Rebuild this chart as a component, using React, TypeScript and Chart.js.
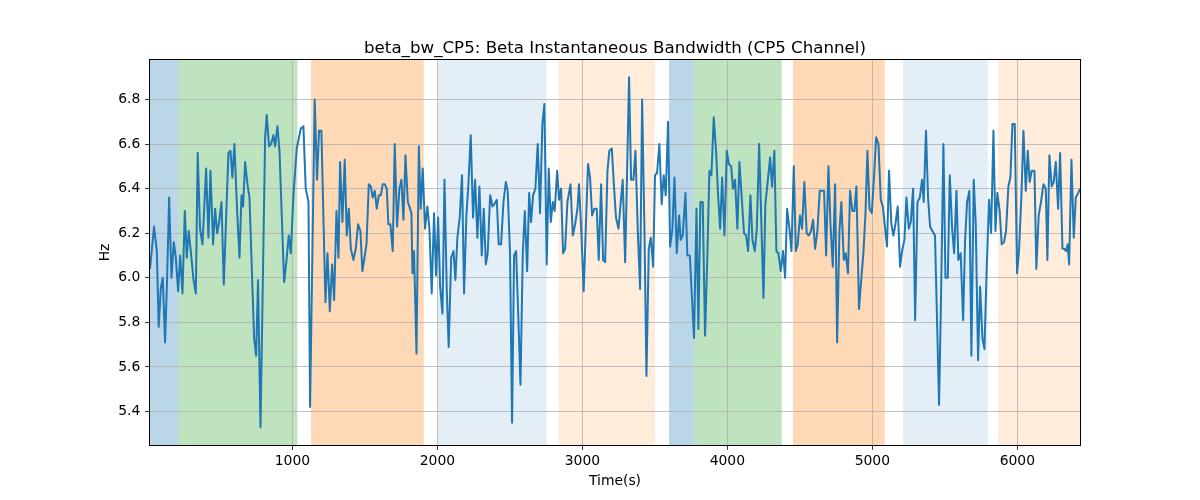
import React, { useEffect, useRef } from "react";
import { Chart, registerables } from "chart.js";

Chart.register(...registerables);

const TITLE = "beta_bw_CP5: Beta Instantaneous Bandwidth (CP5 Channel)";
const X_LABEL = "Time(s)";
const Y_LABEL = "Hz";

const timeSec = [
  18, 46, 65, 78, 92, 106, 122, 136, 150, 166, 182, 196, 212, 226, 242, 258, 272, 285, 301, 318,
  334, 347, 363, 380, 405, 421, 435, 453, 467, 481, 495, 511, 527, 543, 559, 573, 586, 600, 619, 635,
  649, 660, 674,
  690, 704, 736, 750, 763, 780, 812, 823, 839, 853, 869, 881, 897, 911, 943, 961, 975, 989, 1007, 1030,
  1058, 1076, 1092, 1111, 1122, 1154, 1170, 1184, 1200, 1228, 1242, 1258, 1274, 1288, 1304, 1318, 1329,
  1345, 1361, 1375, 1389, 1403, 1421, 1437, 1453, 1469, 1483, 1497, 1511, 1527, 1541, 1554, 1568, 1582,
  1596, 1610, 1623, 1637, 1651, 1662, 1676, 1692, 1706, 1722, 1738, 1752, 1766, 1780, 1796, 1807, 1821,
  1828, 1839, 1856, 1872, 1885, 1899, 1915, 1931, 1945, 1961, 1977,
  1991, 2005, 2019, 2035, 2049, 2065, 2078, 2095, 2111, 2124, 2138, 2154, 2170, 2184, 2200, 2214, 2230,
  2246, 2260, 2276, 2290, 2306, 2320, 2334, 2347, 2364, 2380, 2393, 2410, 2423, 2439, 2456, 2472, 2485,
  2501, 2515, 2529, 2543, 2559, 2573, 2589, 2603, 2619, 2633,
  2646, 2660, 2676, 2692, 2708, 2724, 2738, 2754, 2768, 2782, 2796, 2809, 2826, 2839, 2853, 2867, 2881,
  2897, 2918, 2934, 2950, 2966, 2977, 2993, 3009, 3025, 3039, 3053, 3067, 3083, 3099, 3113, 3129, 3143,
  3157, 3173, 3186, 3203, 3219, 3232, 3249, 3262, 3278, 3295,
  3306, 3322, 3336, 3352, 3366, 3382, 3398, 3412, 3428, 3442, 3458, 3472, 3488, 3501, 3515, 3531, 3547,
  3561, 3575, 3591, 3605, 3621, 3635, 3651, 3667, 3678, 3692, 3711, 3724, 3741, 3755, 3770, 3787, 3800,
  3814, 3830, 3846, 3862, 3876, 3890, 3906, 3922, 3936, 3950,
  3964, 3980, 3996, 4010, 4026, 4039, 4053, 4069, 4083, 4099, 4115, 4129, 4143, 4159, 4173, 4189, 4203,
  4219, 4233, 4249, 4262, 4278, 4295, 4308, 4324, 4338, 4352, 4368, 4384, 4398, 4412, 4428, 4442, 4458,
  4472, 4485, 4501, 4515, 4531, 4547, 4561, 4577, 4591, 4605,
  4621, 4637, 4653, 4667, 4681, 4697, 4711, 4727, 4743, 4757, 4773, 4786, 4803, 4816, 4832, 4846, 4862,
  4876, 4890, 4908, 4924, 4938, 4952, 4966, 4980, 4996, 5012, 5026, 5042, 5058, 5072, 5088, 5101, 5115,
  5131, 5145, 5159, 5175, 5191, 5205, 5221, 5235, 5251,
  5265, 5281, 5295, 5311, 5327, 5343, 5354, 5370, 5384, 5398, 5414, 5432, 5460, 5474, 5490, 5504, 5520,
  5534, 5550, 5564, 5580, 5593, 5609, 5626, 5639, 5653, 5669, 5683, 5699, 5713, 5729, 5743, 5759, 5773,
  5789, 5805, 5819, 5835, 5849, 5862, 5878, 5892, 5908, 5922,
  5938, 5952, 5966, 5982, 5998, 6012, 6028, 6042, 6058, 6072, 6085, 6099, 6118, 6131, 6147, 6163, 6180,
  6196, 6207, 6221, 6237, 6251, 6265, 6281, 6295, 6311, 6324, 6336, 6347, 6357, 6373, 6389, 6403, 6419,
  6432,
];

const bandwidthHz = [
  6.04, 6.23, 6.12, 5.78, 5.95, 6.0, 5.71, 6.0, 6.36, 6.0, 6.16, 6.09, 5.94, 6.1, 5.93, 6.3, 6.09, 6.21, 6.11, 5.99,
  5.93, 6.56, 6.22, 6.15, 6.49, 6.18, 6.48, 6.15, 6.31, 6.2, 6.25, 6.34, 5.97, 6.27, 6.56, 6.57, 6.45, 6.6, 6.3, 6.09,
  6.37, 6.32, 6.52,
  6.42, 6.36, 5.73, 5.65, 5.99, 5.33, 6.63, 6.73, 6.59, 6.6, 6.64, 6.59, 6.68, 6.57, 5.98, 6.09, 6.19, 6.11, 6.37, 6.58,
  6.67, 6.68, 6.4, 6.34, 5.42, 6.8, 6.44, 6.66, 6.66, 5.89, 6.11, 5.85, 6.06, 5.9, 6.3, 6.09, 6.52,
  6.25, 6.53, 6.19, 6.31, 6.13, 6.08, 6.13, 6.24, 6.21, 6.03, 6.09, 6.15, 6.42, 6.41, 6.36, 6.39, 6.31,
  6.37, 6.37, 6.42, 6.42, 6.4, 6.24, 6.24, 6.12, 6.6, 6.23, 6.4, 6.44, 6.26, 6.55, 6.34, 6.32, 6.29,
  6.02, 6.12, 5.66, 6.59, 6.31, 6.49, 6.22, 6.32, 6.22, 5.93, 6.29,
  6.01, 6.27, 5.96, 5.84, 6.44, 5.94, 5.69, 6.09, 6.12, 5.99, 6.18, 6.27, 6.46, 5.93, 6.28, 6.42, 6.64,
  6.27, 6.44, 6.18, 6.41, 6.1, 6.31, 6.06, 6.11, 6.37, 6.32, 6.33, 6.35, 6.15, 6.15, 6.34, 6.43, 6.39,
  6.11, 5.35, 6.1, 6.12, 5.81, 5.52, 6.11, 6.3, 6.03, 6.38,
  6.25, 6.37, 6.4, 6.6, 6.29, 6.69, 6.78, 6.06, 6.49, 6.25, 6.34, 6.3, 6.48, 6.35, 6.4, 6.11, 6.13,
  6.34, 6.42, 6.19, 6.24, 6.31, 6.42, 6.2, 5.94, 6.25, 6.51, 6.45, 6.28, 6.31, 6.31, 6.08, 6.42, 6.08,
  6.07, 6.48, 6.57, 6.58, 6.4, 6.27, 6.22, 6.32, 6.44, 6.07,
  6.4, 6.9, 6.44, 6.44, 6.57, 6.21, 5.95, 6.8, 6.22, 5.56, 6.13, 6.18, 6.05, 6.46, 6.47, 6.6, 6.33,
  6.46, 6.37, 6.7, 6.14, 6.22, 6.45, 6.11, 6.28, 6.17, 6.19, 6.38, 6.1, 6.1, 5.92, 5.73, 6.31, 5.77,
  6.34, 6.34, 5.74, 6.1, 6.48, 6.46, 6.72, 6.57, 6.37, 6.22,
  6.45, 6.19, 6.57, 6.51, 6.5, 6.4, 6.44, 6.22, 6.52, 6.36, 6.2, 6.19, 6.12, 6.37, 6.17, 6.12, 6.22,
  6.6, 6.28, 5.91, 6.33, 6.43, 6.54, 6.41, 6.57, 6.12, 6.11, 6.03, 6.12, 6.0, 6.31, 6.22, 6.12, 6.5,
  6.12, 6.15, 6.28, 6.22, 6.43, 6.2, 6.19, 6.21, 6.26, 6.13,
  6.21, 6.39, 6.39, 6.39, 6.1, 6.5, 6.24, 6.05, 6.42, 5.71, 6.21, 6.34, 6.08, 6.11, 6.02, 6.39, 6.3,
  6.3, 6.41, 5.86, 6.0, 6.11, 6.28, 6.57, 6.31, 6.29, 6.46, 6.63, 6.6, 6.35, 6.32, 6.22, 6.14, 6.48,
  6.24, 6.19, 6.24, 6.32, 6.05, 6.12, 6.17, 6.36, 6.22,
  6.25, 6.4, 5.81, 6.34, 6.36, 6.44, 6.34, 6.66, 6.36, 6.23, 6.21, 6.19, 5.43, 5.93, 6.6, 6.0, 6.0,
  6.46, 6.22, 6.11, 6.39, 6.08, 6.11, 5.81, 6.16, 6.34, 6.39, 5.65, 6.44, 6.24, 5.63, 5.96, 5.73, 5.68,
  6.05, 6.35, 6.2, 6.66, 6.21, 6.38, 6.3, 6.15, 6.16, 6.21,
  6.41, 6.45, 6.69, 6.69, 6.02, 6.13, 6.37, 6.66, 6.39, 6.57, 6.43, 6.48, 6.48, 6.04, 6.28, 6.34, 6.42,
  6.4, 6.08, 6.55, 6.41, 6.43, 6.52, 6.31, 6.56, 6.13, 6.13, 6.12, 6.15, 6.06, 6.53, 6.18, 6.36, 6.38,
  6.4,
];

const xTicks = [1000, 2000, 3000, 4000, 5000, 6000];
const yTicks = [5.4, 5.6, 5.8, 6.0, 6.2, 6.4, 6.6, 6.8];

const spanStart = [18, 216, 1129, 2000, 2835, 3598, 3768, 4453, 5212, 5867];
const spanEnd = [216, 1034, 1906, 2754, 3501, 3768, 4375, 5085, 5796, 6432];
const spanColor = [
  "rgba(31,119,180,0.3)",
  "rgba(44,160,44,0.3)",
  "rgba(255,127,14,0.3)",
  "rgba(31,119,180,0.12)",
  "rgba(255,127,14,0.15)",
  "rgba(31,119,180,0.3)",
  "rgba(44,160,44,0.3)",
  "rgba(255,127,14,0.3)",
  "rgba(31,119,180,0.12)",
  "rgba(255,127,14,0.15)",
];

const X_MIN = 18;
const X_MAX = 6432;
const Y_MIN = 5.25;
const Y_MAX = 6.977;

const FONT = "'DejaVu Sans', 'Liberation Sans', sans-serif";

const spansPlugin = {
  id: "spans",
  beforeDraw(chart: any) {
    const { ctx, chartArea, scales } = chart;
    const xs = scales.x;
    ctx.save();
    ctx.beginPath();
    ctx.rect(chartArea.left, chartArea.top, chartArea.right - chartArea.left, chartArea.bottom - chartArea.top);
    ctx.clip();
    for (let i = 0; i < spanStart.length; i++) {
      const a = xs.getPixelForValue(spanStart[i]);
      const b = xs.getPixelForValue(spanEnd[i]);
      ctx.fillStyle = spanColor[i];
      ctx.fillRect(a, chartArea.top, b - a, chartArea.bottom - chartArea.top);
    }
    ctx.restore();
  },
};

const framePlugin = {
  id: "frame",
  afterDatasetsDraw(chart: any) {
    const { ctx, chartArea } = chart;
    ctx.save();
    ctx.strokeStyle = "#000";
    ctx.lineWidth = 1;
    ctx.strokeRect(
      chartArea.left - 0.5,
      chartArea.top - 0.5,
      chartArea.right - chartArea.left + 1,
      chartArea.bottom - chartArea.top + 1
    );
    ctx.restore();
  },
  afterDraw(chart: any) {
    const { ctx, chartArea } = chart;
    ctx.save();
    ctx.fillStyle = "#000";
    ctx.font = `16.67px ${FONT}`;
    ctx.textAlign = "center";
    ctx.textBaseline = "alphabetic";
    ctx.fillText(TITLE, (chartArea.left + chartArea.right) / 2, 52.7);
    ctx.restore();
  },
};

export default function App() {
  const canvasRef = useRef<HTMLCanvasElement | null>(null);

  useEffect(() => {
    const canvas = canvasRef.current;
    if (!canvas) return;
    const tickFont = { family: FONT, size: 13.9 };
    const chart = new Chart(canvas, {
      type: "line",
      data: {
        datasets: [
          {
            data: timeSec.map((t, i) => ({ x: t, y: bandwidthHz[i] })),
            borderColor: "#1f77b4",
            borderWidth: 2,
            pointRadius: 0,
            fill: false,
            tension: 0,
            borderJoinStyle: "round",
          },
        ],
      },
      options: {
        responsive: false,
        animation: false,
        devicePixelRatio: 1,
        layout: { padding: { top: 60, right: 120, left: 0, bottom: 0 } },
        plugins: {
          legend: { display: false },
          tooltip: { enabled: false },
          title: { display: false },
        },
        scales: {
          x: {
            type: "linear",
            min: X_MIN,
            max: X_MAX,
            afterBuildTicks: (s: any) => {
              s.ticks = xTicks.map((v) => ({ value: v }));
            },
            afterFit: (s: any) => {
              s.height = 55;
            },
            ticks: {
              color: "#000",
              font: tickFont,
              padding: 3.5,
              maxRotation: 0,
              autoSkip: false,
              callback: (v: any) => String(v),
            },
            grid: {
              color: "#b0b0b0",
              lineWidth: 0.8,
              tickColor: "#000",
              tickLength: 4.86,
              tickWidth: 0.8,
            },
            border: { display: false },
            title: {
              display: true,
              text: X_LABEL,
              color: "#000",
              font: tickFont,
              padding: { top: 0, bottom: 10.7 },
            },
          },
          y: {
            type: "linear",
            min: Y_MIN,
            max: Y_MAX,
            afterBuildTicks: (s: any) => {
              s.ticks = yTicks.map((v) => ({ value: v }));
            },
            afterFit: (s: any) => {
              s.width = 150;
            },
            ticks: {
              color: "#000",
              font: tickFont,
              padding: 4.86,
              autoSkip: false,
              callback: (v: any) => Number(v).toFixed(1),
            },
            grid: {
              color: "#b0b0b0",
              lineWidth: 0.8,
              tickColor: "#000",
              tickLength: 4.86,
              tickWidth: 0.8,
            },
            border: { display: false },
            title: {
              display: true,
              text: Y_LABEL,
              color: "#000",
              font: tickFont,
              padding: { top: 96.7, bottom: 0 },
            },
          },
        },
      },
      plugins: [spansPlugin, framePlugin],
    } as any);
    return () => chart.destroy();
  }, []);

  return (
    <div style={{ position: "fixed", left: 0, top: 0, width: 1200, height: 500, background: "#fff" }}>
      <canvas ref={canvasRef} width={1200} height={500} style={{ display: "block" }} />
    </div>
  );
}
